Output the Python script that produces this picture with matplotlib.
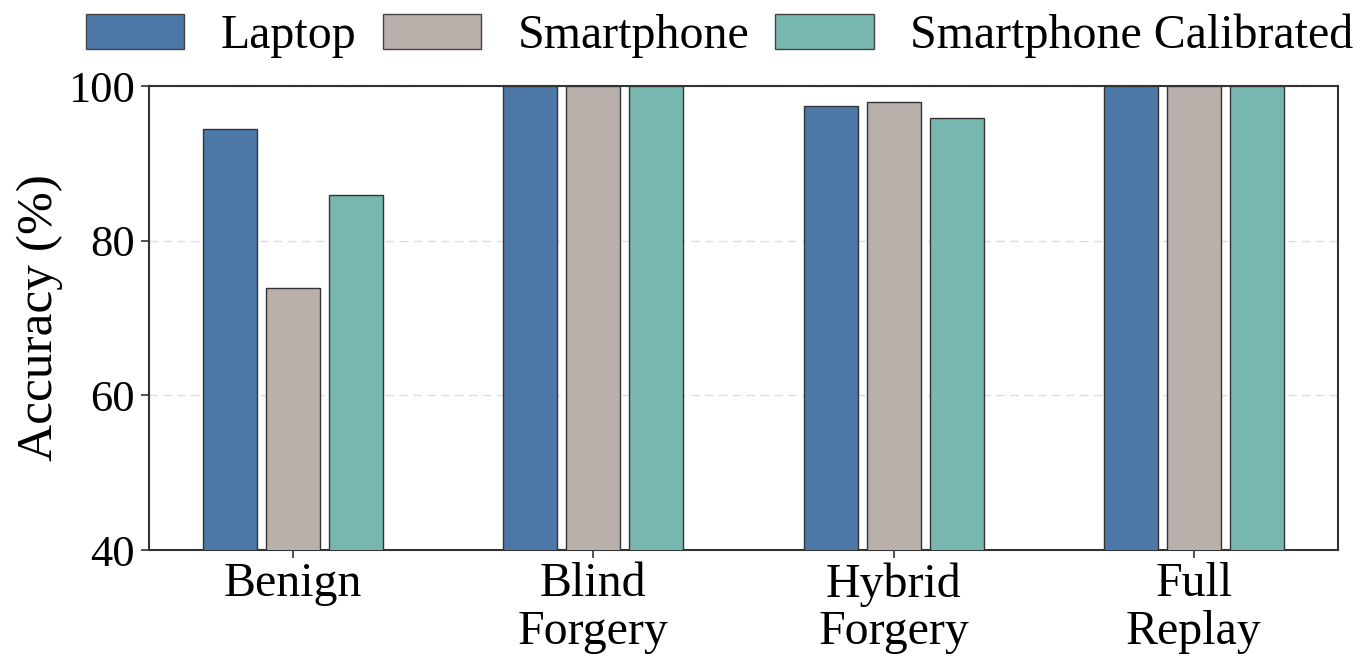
import matplotlib
matplotlib.use("Agg")
import matplotlib.pyplot as plt
import numpy as np

categories = ["Benign", "Blind\nForgery", "Hybrid\nForgery", "Full\nReplay"]
series_names = ["Laptop", "Smartphone", "Smartphone Calibrated"]
laptop = [94.5, 100.0, 97.4, 100.0]
smartphone = [73.9, 100.0, 97.9, 100.0]
calibrated = [85.9, 100.0, 95.9, 100.0]
colors = ["#4C78A8", "#B9B0AB", "#78B7B0"]
yticks = [40, 60, 80, 100]

plt.rcParams['font.family'] = ['Liberation Serif', 'DejaVu Serif']

fig = plt.figure(figsize=(13.6, 6.58), dpi=100)
ax = fig.add_axes([149/1360, 1 - 550/658, (1338-149)/1360, (550-86)/658])

x = np.arange(len(categories))
width = 0.18
step = 0.21
for i, (vals, name, c) in enumerate(zip([laptop, smartphone, calibrated], series_names, colors)):
    ax.bar(x + (i - 1) * step, vals, width, color=c, edgecolor="#333333",
           linewidth=1.0, label=name, zorder=3)

ax.set_ylim(40, 100)
ax.set_yticks(yticks)
ax.set_xticks(x)
ax.set_xticklabels(categories, fontsize=34.5, linespacing=1.1)
ax.tick_params(axis='y', labelsize=32, length=6, width=1.2, color="#333333", pad=4)
ax.tick_params(axis='x', length=6, width=1.2, color="#333333", pad=3)
ax.set_ylabel("Accuracy (%)", fontsize=37, labelpad=4)
ax.yaxis.grid(True, linestyle=(0, (6, 4)), color="#dddddd", linewidth=1.0, zorder=0)
for s in ax.spines.values():
    s.set_color("#333333")
    s.set_linewidth(1.5)

leg = ax.legend(loc="lower center", bbox_to_anchor=(0.48, 1.0), ncol=3, frameon=False,
                fontsize=34.5, handlelength=2.05, handleheight=0.72, handletextpad=0.77,
                columnspacing=0.54, borderaxespad=0.18)
for h in leg.legend_handles:
    h.set_edgecolor("#444444")

fig.savefig("out.png", dpi=100)
